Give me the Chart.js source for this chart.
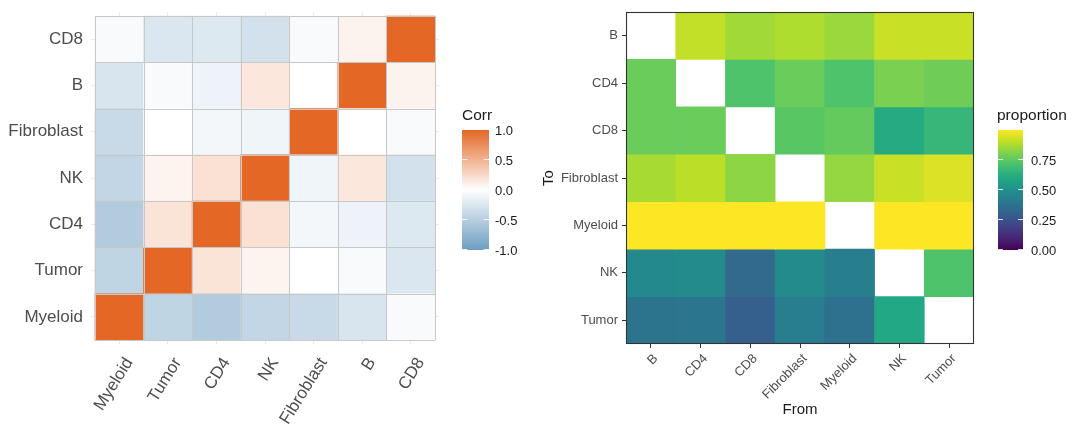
<!DOCTYPE html>
<html><head><meta charset="utf-8">
<script src="https://cdn.jsdelivr.net/npm/chart.js@4.4.1/dist/chart.umd.min.js"></script>
<style>
html,body{margin:0;padding:0;background:#fff;width:1080px;height:437px;overflow:hidden}
.wrap{position:absolute;top:0;width:540px;height:437px}
canvas{display:block}
</style></head><body>
<div class="wrap" style="left:0"><canvas id="corr" width="540" height="437"></canvas></div>
<div class="wrap" style="left:540px"><canvas id="flow" width="540" height="437"></canvas></div>
<script>
// ---------- DATA: correlation heatmap (left) ----------
// x order (left to right) and y order (bottom to top)
const corrLabels = ["Myeloid", "Tumor", "CD4", "NK", "Fibroblast", "B", "CD8"];
const corrMyeloid    = [ 1.00, -0.43, -0.53, -0.42, -0.38, -0.27, -0.05];
const corrTumor      = [-0.43,  1.00,  0.18,  0.07,  0.00, -0.05, -0.25];
const corrCD4        = [-0.53,  0.18,  1.00,  0.20, -0.08, -0.12, -0.23];
const corrNK         = [-0.42,  0.07,  0.20,  1.00, -0.10,  0.16, -0.31];
const corrFibroblast = [-0.38,  0.00, -0.08, -0.10,  1.00,  0.00, -0.05];
const corrB          = [-0.27, -0.05, -0.12,  0.16,  0.00,  1.00,  0.08];
const corrCD8        = [-0.05, -0.25, -0.23, -0.31, -0.05,  0.08,  1.00];
const corrTickValues = [-1, -0.5, 0, 0.5, 1];
const corrTickLabels = ["-1.0", "-0.5", "0.0", "0.5", "1.0"];

// ---------- DATA: proportion heatmap (right) ----------
// rows = To (top to bottom), columns = From (left to right)
const flowLabels = ["B", "CD4", "CD8", "Fibroblast", "Myeloid", "NK", "Tumor"];
const toB          = [null, 0.91, 0.86, 0.88, 0.85, 0.92, 0.92];
const toCD4        = [0.77, null, 0.72, 0.77, 0.72, 0.80, 0.78];
const toCD8        = [0.77, 0.77, null, 0.74, 0.76, 0.61, 0.66];
const toFibroblast = [0.87, 0.90, 0.83, null, 0.84, 0.92, 0.95];
const toMyeloid    = [1.00, 1.00, 1.00, 1.00, null, 1.00, 1.00];
const toNK         = [0.47, 0.48, 0.34, 0.48, 0.43, null, 0.72];
const toTumor      = [0.385, 0.39, 0.30, 0.42, 0.37, 0.60, null];
const propTickValues = [0, 0.25, 0.5, 0.75];
const propTickLabels = ["0.00", "0.25", "0.50", "0.75"];

// ---------- styling helpers ----------
const FONT = "'Liberation Sans', Arial, Helvetica, sans-serif";
Chart.defaults.font.family = FONT;

const corrMatrix = [corrMyeloid, corrTumor, corrCD4, corrNK, corrFibroblast, corrB, corrCD8];
const flowMatrix = [toB, toCD4, toCD8, toFibroblast, toMyeloid, toNK, toTumor];

function hexToRgb(h){ h=h.replace('#',''); return [parseInt(h.substr(0,2),16),parseInt(h.substr(2,2),16),parseInt(h.substr(4,2),16)]; }
function mix(a,b,t){ return 'rgb('+Math.round(a[0]+(b[0]-a[0])*t)+','+Math.round(a[1]+(b[1]-a[1])*t)+','+Math.round(a[2]+(b[2]-a[2])*t)+')'; }
const cLow = hexToRgb('#6D9EC1'), cMid = [255,255,255], cHigh = hexToRgb('#E46726');
function corrColor(v){ v=Math.max(-1,Math.min(1,v)); return v>=0 ? mix(cMid,cHigh,v) : mix(cMid,cLow,-v); }
const viridis = ['#440154','#482576','#414487','#35608D','#2A788E','#21908C','#22A884','#43BF71','#7AD151','#BBDF27','#FDE725'].map(hexToRgb);
function viridisColor(v){ v=Math.max(0,Math.min(1,v)); const p=v*10; const i=Math.min(9,Math.floor(p)); return mix(viridis[i],viridis[i+1],p-i); }

function colorbarPlugin(cfg){
  return { id: 'colorbar_'+cfg.name, afterDraw(chart){
    const ctx = chart.ctx; ctx.save();
    const {x,y,w,h,min,max,color,ticks,labels,title,titleX,titleY,labelX} = cfg;
    const g = ctx.createLinearGradient(0,y+h,0,y);
    for (let k=0;k<=50;k++){ const t=k/50; g.addColorStop(t, color(min+(max-min)*t)); }
    ctx.fillStyle = g; ctx.fillRect(x,y,w,h);
    ctx.lineWidth = 1; ctx.strokeStyle = 'rgba(255,255,255,0.85)';
    ctx.font = '13px '+FONT; ctx.textAlign='left'; ctx.textBaseline='middle';
    ticks.forEach((v,i)=>{
      const py = Math.round(y+h-(v-min)/(max-min)*h)-0.5;
      ctx.beginPath(); ctx.moveTo(x,py); ctx.lineTo(x+w/5,py); ctx.moveTo(x+w-w/5,py); ctx.lineTo(x+w,py); ctx.stroke();
      ctx.fillStyle = '#1a1a1a'; ctx.fillText(labels[i], labelX, py+1.5);
    });
    ctx.font = '15.5px '+FONT; ctx.textBaseline='alphabetic'; ctx.fillStyle='#1a1a1a';
    ctx.fillText(title, titleX, titleY);
    ctx.restore();
  }};
}

const tileOutline = { id:'tileOutline', afterDatasetsDraw(chart){
  const ctx=chart.ctx, xs=chart.scales.x, ys=chart.scales.y, n=corrLabels.length;
  ctx.save(); ctx.strokeStyle='#c8c8c8'; ctx.lineWidth=1;
  const x0=xs.getPixelForValue(-0.5), x1=xs.getPixelForValue(n-0.5);
  const y0=ys.getPixelForValue(-0.5), y1=ys.getPixelForValue(n-0.5);
  ctx.beginPath();
  for(let k=0;k<=n;k++){
    const px=Math.round(xs.getPixelForValue(k-0.5))+0.5; ctx.moveTo(px,y0); ctx.lineTo(px,y1);
    const py=Math.round(ys.getPixelForValue(k-0.5))+0.5; ctx.moveTo(x0,py); ctx.lineTo(x1,py);
  }
  ctx.stroke(); ctx.restore();
}};

const panelBorder = { id:'panelBorder', afterDatasetsDraw(chart){
  const a=chart.chartArea, ctx=chart.ctx; ctx.save();
  ctx.strokeStyle='#333333'; ctx.lineWidth=1.1;
  ctx.strokeRect(Math.round(a.left)+0.5, Math.round(a.top)+0.5, Math.round(a.right-a.left)-1, Math.round(a.bottom-a.top)-1);
  ctx.restore();
}};

function fixX(h){ return s=>{ s.height=h; s.paddingLeft=0; s.paddingRight=0; }; }
function fixY(w){ return s=>{ s.width=w; s.paddingTop=0; s.paddingBottom=0; }; }

// ---------- left chart ----------
const corrDatasets = corrMatrix.map((row,i)=>({
  data: row.map((v,j)=>({x:j, y:[i-0.5, i+0.5]})),
  backgroundColor: row.map(v=>corrColor(v)),
  borderWidth: 0, barPercentage: 1, categoryPercentage: 1, grouped: false
}));
const ex = 4/48.57, ey = 4/46.29;
new Chart(document.getElementById('corr'), {
  type: 'bar',
  data: { datasets: corrDatasets },
  options: {
    responsive:false, animation:false, devicePixelRatio: 1,
    layout:{ padding:{ top:12, right:101, left:0, bottom:0 } },
    plugins:{ legend:{display:false}, tooltip:{enabled:false} },
    scales:{
      x:{ type:'linear', min:-0.5-ex, max:corrLabels.length-0.5+ex, offset:false,
          afterBuildTicks: s=>{ s.ticks = corrLabels.map((_,i)=>({value:i})); },
          afterFit: fixX(93),
          ticks:{ autoSkip:false, minRotation:58, maxRotation:58, padding:10, labelOffset:10, color:'#4d4d4d', font:{size:17}, callback:v=>corrLabels[v] },
          grid:{ offset:false, color:'#ebebeb', drawTicks:false, lineWidth:1 }, border:{display:false} },
      y:{ type:'linear', min:-0.5-ey, max:corrLabels.length-0.5+ey,
          afterBuildTicks: s=>{ s.ticks = corrLabels.map((_,i)=>({value:i})); },
          afterFit: fixY(91),
          ticks:{ autoSkip:false, padding:8, color:'#4d4d4d', font:{size:17}, callback:v=>corrLabels[v] },
          grid:{ offset:false, color:'#ebebeb', drawTicks:false, lineWidth:1 }, border:{display:false} }
    }
  },
  plugins:[ tileOutline, colorbarPlugin({ name:'corr', x:462, y:130, w:27, h:120, min:-1, max:1, color:corrColor,
      ticks:corrTickValues, labels:corrTickLabels, title:'Corr', titleX:462, titleY:120, labelX:495 }) ]
});

// ---------- right chart ----------
const flowDatasets = flowMatrix.map((row,i)=>{
  const pts=[], cols=[];
  row.forEach((v,j)=>{ if(v!==null){ pts.push({x:j, y:[i-0.5,i+0.5]}); cols.push(viridisColor(v)); } });
  return { data: pts, backgroundColor: cols, borderWidth:0, barPercentage:1, categoryPercentage:1, grouped:false };
});
new Chart(document.getElementById('flow'), {
  type: 'bar',
  data: { datasets: flowDatasets },
  options: {
    responsive:false, animation:false, devicePixelRatio: 1,
    layout:{ padding:{ top:12, right:106, left:0, bottom:0 } },
    plugins:{ legend:{display:false}, tooltip:{enabled:false} },
    scales:{
      x:{ type:'linear', min:-0.5, max:flowLabels.length-0.5, offset:false,
          afterBuildTicks: s=>{ s.ticks = flowLabels.map((_,i)=>({value:i})); },
          afterFit: fixX(93),
          ticks:{ autoSkip:false, minRotation:45, maxRotation:45, padding:3, labelOffset:5, color:'#4d4d4d', font:{size:13}, callback:v=>flowLabels[v] },
          grid:{ offset:false, drawOnChartArea:false, drawTicks:true, tickLength:4, color:'#333333', lineWidth:1 }, border:{display:false},
          title:{ display:true, text:'From', color:'#1a1a1a', font:{size:15}, padding:{top:0, bottom:18} } },
      y:{ type:'linear', reverse:true, min:-0.5, max:flowLabels.length-0.5,
          afterBuildTicks: s=>{ s.ticks = flowLabels.map((_,i)=>({value:i})); },
          afterFit: fixY(86),
          ticks:{ autoSkip:false, padding:4, color:'#4d4d4d', font:{size:13}, callback:v=>flowLabels[v] },
          grid:{ offset:false, drawOnChartArea:false, drawTicks:true, tickLength:4, color:'#333333', lineWidth:1 }, border:{display:false},
          title:{ display:true, text:'To', color:'#1a1a1a', font:{size:15}, padding:{top:0, bottom:0} } }
    }
  },
  plugins:[ panelBorder, colorbarPlugin({ name:'prop', x:458, y:130, w:25, h:120, min:0, max:1, color:viridisColor,
      ticks:propTickValues, labels:propTickLabels, title:'proportion', titleX:457, titleY:120, labelX:491 }) ]
});
</script>
</body></html>
